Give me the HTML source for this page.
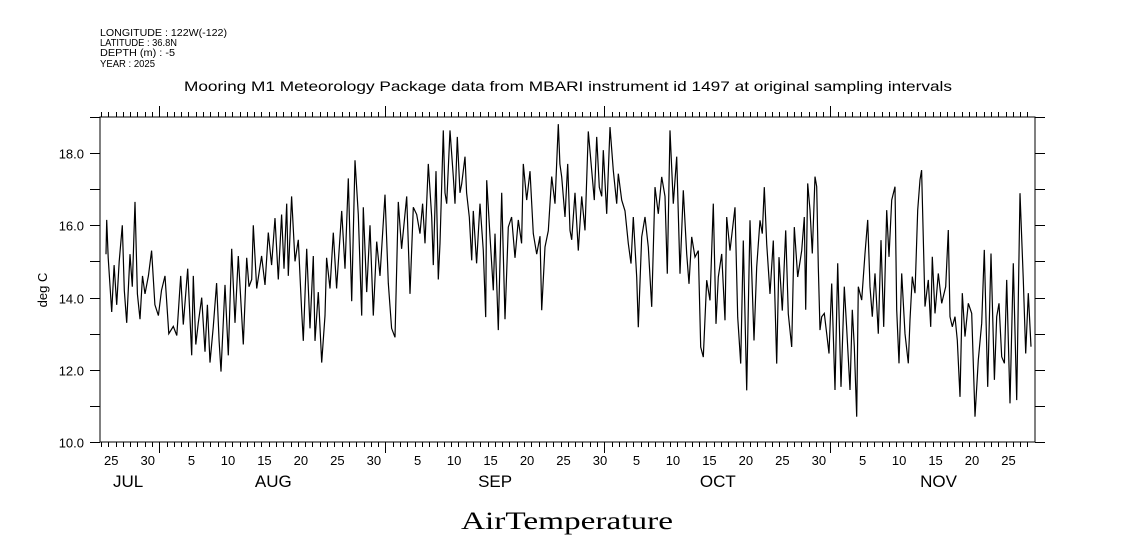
<!DOCTYPE html>
<html><head><meta charset="utf-8"><style>
html,body{margin:0;padding:0;background:#fff;}
svg{display:block;font-family:"Liberation Sans",sans-serif;}
</style></head><body>
<svg id="chart" width="1121" height="560" viewBox="0 0 1121 560" xmlns="http://www.w3.org/2000/svg">
<rect width="1121" height="560" fill="#fff"/>
<g font-size="10" fill="#000">
<text x="100" y="36" textLength="127" lengthAdjust="spacingAndGlyphs">LONGITUDE : 122W(-122)</text>
<text x="100" y="46" textLength="77" lengthAdjust="spacingAndGlyphs">LATITUDE : 36.8N</text>
<text x="100" y="56" textLength="75" lengthAdjust="spacingAndGlyphs">DEPTH (m) : -5</text>
<text x="100" y="67" textLength="55" lengthAdjust="spacingAndGlyphs">YEAR : 2025</text>
</g>
<text x="184" y="91" font-size="14" textLength="768" lengthAdjust="spacingAndGlyphs">Mooring M1 Meteorology Package data from MBARI instrument id 1497 at original sampling intervals</text>
<text x="567" y="529" font-size="25" text-anchor="middle" font-family="Liberation Serif, serif" textLength="212" lengthAdjust="spacingAndGlyphs">AirTemperature</text>
<text transform="translate(47,290) rotate(-90)" font-size="13" text-anchor="middle">deg C</text>
<rect x="100" y="117" width="935" height="325" fill="none" stroke="#000" stroke-width="1"/>
<g id="axes"></g>
<path id="series" fill="none" stroke="#000" stroke-width="1.2" stroke-linejoin="miter"/>
</svg>
<script>
// time in days since Aug 1 2025, temperature in deg C
const times = [-7.3,-7.21,-7.0,-6.53,-6.2,-5.84,-5.5,-5.07,-4.8,-4.47,-4.02,-3.7,-3.33,-3.0,-2.65,-2.3,-1.96,-1.5,-1.05,-0.6,-0.13,0.3,0.78,1.3,1.92,2.4,2.93,3.29,3.89,4.44,4.66,5.0,5.35,5.81,6.26,6.6,6.95,7.4,7.86,8.2,8.46,9.0,9.46,9.92,10.38,10.83,11.52,11.98,12.3,12.66,12.89,13.35,14.03,14.49,14.94,15.4,15.86,16.31,16.77,17.1,17.46,17.69,18.14,18.6,19.06,19.52,19.74,20.2,20.66,21.11,21.34,21.8,22.26,22.71,22.94,23.4,23.85,24.31,25.0,25.46,25.91,26.37,26.83,27.28,27.74,27.97,28.43,28.88,29.34,29.8,30.25,30.94,31.39,31.85,32.31,32.76,33.22,33.91,34.37,34.82,
35.28,35.74,36.1,36.42,36.88,37.34,37.56,37.93,38.25,38.48,38.93,39.16,39.39,39.85,40.3,40.53,40.85,41.22,41.45,41.9,42.13,42.5,42.82,43.04,43.5,43.96,44.41,44.74,44.88,45.33,45.79,46.02,46.47,46.93,47.39,47.84,48.3,48.76,49.21,49.67,49.9,50.36,50.81,51.27,51.73,52.19,52.42,52.87,53.33,53.79,54.24,54.7,54.92,
55.16,55.61,55.98,56.3,56.53,56.98,57.44,57.9,58.35,58.81,59.27,59.63,59.96,60.31,60.64,60.86,61.33,61.78,62.24,62.7,62.92,63.38,63.84,64.29,64.66,64.98,65.44,65.66,66.13,66.58,67.03,67.5,67.95,68.4,68.87,69.32,69.64,70.0,70.46,70.93,71.38,71.83,72.3,72.61,72.98,73.43,73.89,74.21,74.57,75.04,75.49,75.94,76.31,76.63,77.09,77.55,77.78,78.23,78.92,79.29,79.7,80.06,80.52,80.97,81.52,81.89,82.34,82.66,82.93,83.26,83.72,84.17,84.63,84.95,85.4,85.87,86.22,86.69,87.05,87.51,88.06,88.42,
88.61,88.88,89.2,89.52,89.88,90.11,90.34,90.57,90.8,91.16,91.49,91.8,92.17,92.62,92.99,93.45,93.9,94.22,94.68,95.0,95.27,95.6,95.82,96.28,96.74,97.11,97.42,97.74,98.11,98.56,98.93,99.3,99.71,100.03,100.4,100.85,101.08,101.4,101.77,102.22,102.67,102.91,103.22,103.59,103.96,104.28,104.5,104.96,105.42,105.74,105.96,106.33,106.79,107.25,107.8,108.16,108.39,108.71,109.07,109.39,109.76,110.08,110.44,110.9,111.36,111.82,112.27,112.73,113.09,113.56,114.01,114.47,114.79,115.11,115.48,115.84,116.16,116.62,117.07,117.53,117.99,118.44,118.77,119.12,119.49];
const temps = [15.2,16.15,15.1,13.6,14.9,13.8,15.0,16.0,14.2,13.3,15.2,14.3,16.65,14.1,13.4,14.6,14.1,14.6,15.3,13.8,13.5,14.2,14.6,13.0,13.2,12.95,14.6,13.25,14.8,12.4,14.6,12.7,13.3,14.0,12.5,13.8,12.2,13.2,14.4,12.8,11.95,14.35,12.4,15.35,13.3,15.15,12.7,15.1,14.3,14.5,16.0,14.25,15.15,14.35,15.8,14.9,16.2,14.5,16.3,14.8,16.6,14.6,16.8,15.0,15.6,13.6,12.8,15.35,13.15,15.15,12.8,14.15,12.2,13.5,15.1,14.25,15.8,14.25,16.4,14.8,17.3,13.9,17.8,16.3,13.5,16.5,14.15,16.0,13.5,15.55,14.6,16.85,14.4,13.15,12.9,16.65,15.35,16.8,14.1,16.5,
16.3,15.77,16.6,15.5,17.7,16.23,14.9,17.5,14.5,15.5,18.63,16.9,16.6,18.63,17.35,16.6,18.45,16.9,17.15,17.9,16.9,16.23,15.03,16.4,14.95,16.6,15.3,13.46,17.25,15.7,14.2,15.77,13.1,16.9,13.4,15.95,16.23,15.1,16.15,15.5,17.7,16.7,17.5,15.77,15.2,15.7,13.65,15.4,15.85,17.35,16.6,18.8,17.7,
17.34,16.23,17.7,15.86,15.6,16.9,15.3,16.8,15.86,18.6,17.52,16.7,18.45,17.06,16.8,18.08,16.32,18.72,17.52,16.6,17.43,16.7,16.4,15.5,14.94,16.23,14.57,13.18,15.68,16.23,15.4,13.74,17.06,16.32,17.34,16.8,14.66,18.63,16.6,17.9,14.66,16.97,15.21,14.38,15.68,15.12,15.3,12.63,12.35,14.48,13.92,16.6,13.27,14.57,15.21,13.37,16.23,15.3,16.5,13.46,12.17,15.58,11.43,16.14,12.81,14.85,16.14,15.77,17.06,15.49,14.1,15.58,12.17,15.12,13.64,15.86,13.55,12.63,15.95,14.57,15.3,16.23,
13.66,17.16,16.42,15.22,17.35,17.07,14.86,13.1,13.47,13.56,13.0,12.45,14.39,11.44,14.95,11.53,14.3,13.19,11.44,13.66,12.64,10.7,14.3,13.93,15.22,16.15,14.3,13.47,14.67,13.0,15.59,13.19,16.42,15.13,16.7,17.07,13.66,12.18,14.67,13.0,12.18,13.38,14.58,14.12,16.42,17.26,17.53,13.75,14.49,13.19,15.13,13.56,14.67,13.84,14.3,15.87,13.47,13.19,13.47,12.82,11.25,14.12,12.92,13.84,13.56,10.7,12.27,13.29,15.32,11.53,15.22,11.72,13.47,13.84,12.36,12.18,14.49,11.07,14.95,11.16,16.89,14.49,12.45,14.12,12.64];
const yTickValues = [10,11,12,13,14,15,16,17,18,19];
const yTickLabels = ["10.0","","12.0","","14.0","","16.0","","18.0",""];
const dayLabels = [[-7,"25"],[-2,"30"],[4,"5"],[9,"10"],[14,"15"],[19,"20"],[24,"25"],[29,"30"],[35,"5"],[40,"10"],[45,"15"],[50,"20"],[55,"25"],[60,"30"],[65,"5"],[70,"10"],[75,"15"],[80,"20"],[85,"25"],[90,"30"],[96,"5"],[101,"10"],[106,"15"],[111,"20"],[116,"25"]];
const monthLabels = [[-6.35,"JUL"],[13.1,"AUG"],[43.7,"SEP"],[74.1,"OCT"],[104.3,"NOV"]];
const monthStarts = [0,31,61,92];

const X0 = 100, X1 = 1035, Y0 = 117, Y1 = 442;
const xScale = t => 159.3 + t * 7.295;
const yScale = v => Y1 - (v - 10) * (Y1 - Y0) / 9;
const NS = "http://www.w3.org/2000/svg";
const axes = document.getElementById("axes");
function line(x1,y1,x2,y2){const l=document.createElementNS(NS,"line");l.setAttribute("x1",x1);l.setAttribute("y1",y1);l.setAttribute("x2",x2);l.setAttribute("y2",y2);l.setAttribute("stroke","#000");l.setAttribute("stroke-width","1");axes.appendChild(l);return l;}
function text(x,y,s,size,anchor){const e=document.createElementNS(NS,"text");e.setAttribute("x",x);e.setAttribute("y",y);e.setAttribute("font-size",size);e.setAttribute("text-anchor",anchor);e.textContent=s;axes.appendChild(e);return e;}
for(let d=-8; d<=120; d++){
  const x = Math.round(xScale(d))+0.5;
  if(x < X0 || x > X1) continue;
  const major = monthStarts.includes(d);
  const b = line(x,Y1,x,Y1+(major?11:5));
  
  
  const t = line(x,Y0,x,Y0-(major?11:5));
  
  
}
dayLabels.forEach(([d,s])=>{
  const e = text(xScale(d)+3, 465, s, 13, "middle");
  
  
});
monthLabels.forEach(([d,s])=>{
  const e = text(xScale(d), 487, s, 17, "start");
  
  
});
yTickValues.forEach((v,i)=>{
  const y = Math.round(yScale(v))+0.5;
  const l = line(X0-10,y,X0,y);
  
  
  const r = line(X1,y,X1+10,y);
  
  
  if(yTickLabels[i]){
    const e = text(84, y+5, yTickLabels[i], 13, "end");
    
    
  }
});
let dStr = "";
times.forEach((t,i)=>{ dStr += (i?"L":"M") + xScale(t).toFixed(1) + "," + yScale(temps[i]).toFixed(1); });
document.getElementById("series").setAttribute("d", dStr);
</script>
</body></html>
